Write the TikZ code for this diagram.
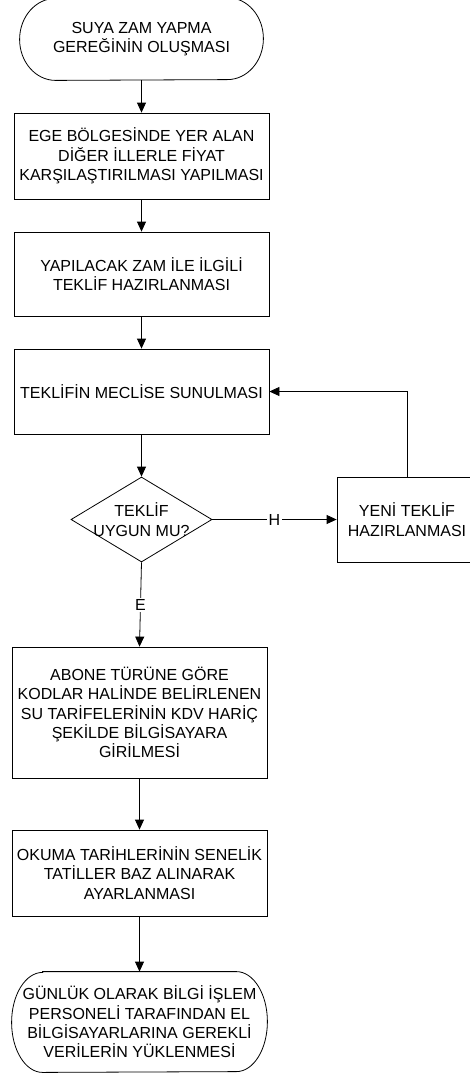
\documentclass[tikz,border=0pt]{standalone}
\usepackage{fontspec}
\setmainfont{Liberation Sans}
\usetikzlibrary{arrows.meta,shapes.geometric}
\begin{document}
\begin{tikzpicture}[x=1pt,y=1pt,
  every node/.style={font=\fontsize{16}{19.3}\selectfont},
  proc/.style={draw, rectangle, inner sep=0pt, align=center},
  term/.style={inner sep=0pt, align=center},
  dia/.style={draw, diamond, inner sep=0pt, minimum width=141pt, minimum height=85pt},
  arr/.style={-{Triangle[length=10pt,width=9pt]}},
  lbl/.style={fill=white, inner sep=1.5pt},
  line width=0.8pt]
\useasboundingbox (0,0) rectangle (469,-1074);

% nodes
\node[term, minimum width=243pt, minimum height=82pt] (start) at (141.5,-39)
  {SUYA ZAM YAPMA\\GEREĞİNİN OLUŞMASI};
\node[proc, minimum width=255pt, minimum height=86pt] (b1) at (141.5,-156)
  {EGE BÖLGESİNDE YER ALAN\\DİĞER İLLERLE FİYAT\\KARŞILAŞTIRILMASI YAPILMASI};
\node[proc, minimum width=255pt, minimum height=84pt] (b2) at (141.5,-274)
  {YAPILACAK ZAM İLE İLGİLİ\\TEKLİF HAZIRLANMASI};
\node[proc, minimum width=255pt, minimum height=85pt] (b3) at (141.5,-391.5)
  {TEKLİFİN MECLİSE SUNULMASI};
\node[dia] (dec) at (141.5,-519.5) {};
\node[align=center, inner sep=0pt] (dectext) at (dec.center) {TEKLİF\\UYGUN MU?};
\node[proc, minimum width=140pt, minimum height=85pt] (yeni) at (407,-519.5)
  {YENİ TEKLİF\\HAZIRLANMASI};
\node[proc, minimum width=255pt, minimum height=131pt] (b5) at (139.5,-712.5)
  {ABONE TÜRÜNE GÖRE\\KODLAR HALİNDE BELİRLENEN\\SU TARİFELERİNİN KDV HARİÇ\\ŞEKİLDE BİLGİSAYARA\\GİRİLMESİ};
\node[proc, minimum width=255pt, minimum height=86pt] (b6) at (139.5,-873)
  {OKUMA TARİHLERİNİN SENELİK\\TATİLLER BAZ ALINARAK\\AYARLANMASI};
\node[term, minimum width=255pt, minimum height=100pt] (end) at (139.5,-1022)
  {GÜNLÜK OLARAK BİLGİ İŞLEM\\PERSONELİ TARAFINDAN EL\\BİLGİSAYARLARINA GEREKLİ\\VERİLERİN YÜKLENMESİ};

% terminal outlines
\draw ([xshift=36pt]start.north west) -- ([xshift=-36pt]start.north east)
  arc[start angle=90,end angle=-90,x radius=36pt,y radius=41pt]
  -- ([xshift=36pt]start.south west)
  arc[start angle=270,end angle=90,x radius=36pt,y radius=41pt] -- cycle;
\draw ([xshift=31pt]end.north west) -- ([xshift=-31pt]end.north east)
  arc[start angle=90,end angle=-90,x radius=31pt,y radius=50pt]
  -- ([xshift=31pt]end.south west)
  arc[start angle=270,end angle=90,x radius=31pt,y radius=50pt] -- cycle;

% connectors
\draw[arr] (start.south) -- (b1.north);
\draw[arr] (b1.south) -- (b2.north);
\draw[arr] (b2.south) -- (b3.north);
\draw[arr] (b3.south) -- (dec.north);
\draw[arr] (dec.east) -- node[lbl]{H} (yeni.west);
\draw[arr] (yeni.north) |- (b3.east);
\draw[arr] (dec.south) -- node[lbl]{E} (b5.north);
\draw[arr] (b5.south) -- (b6.north);
\draw[arr] (b6.south) -- (end.north);
\end{tikzpicture}
\end{document}
